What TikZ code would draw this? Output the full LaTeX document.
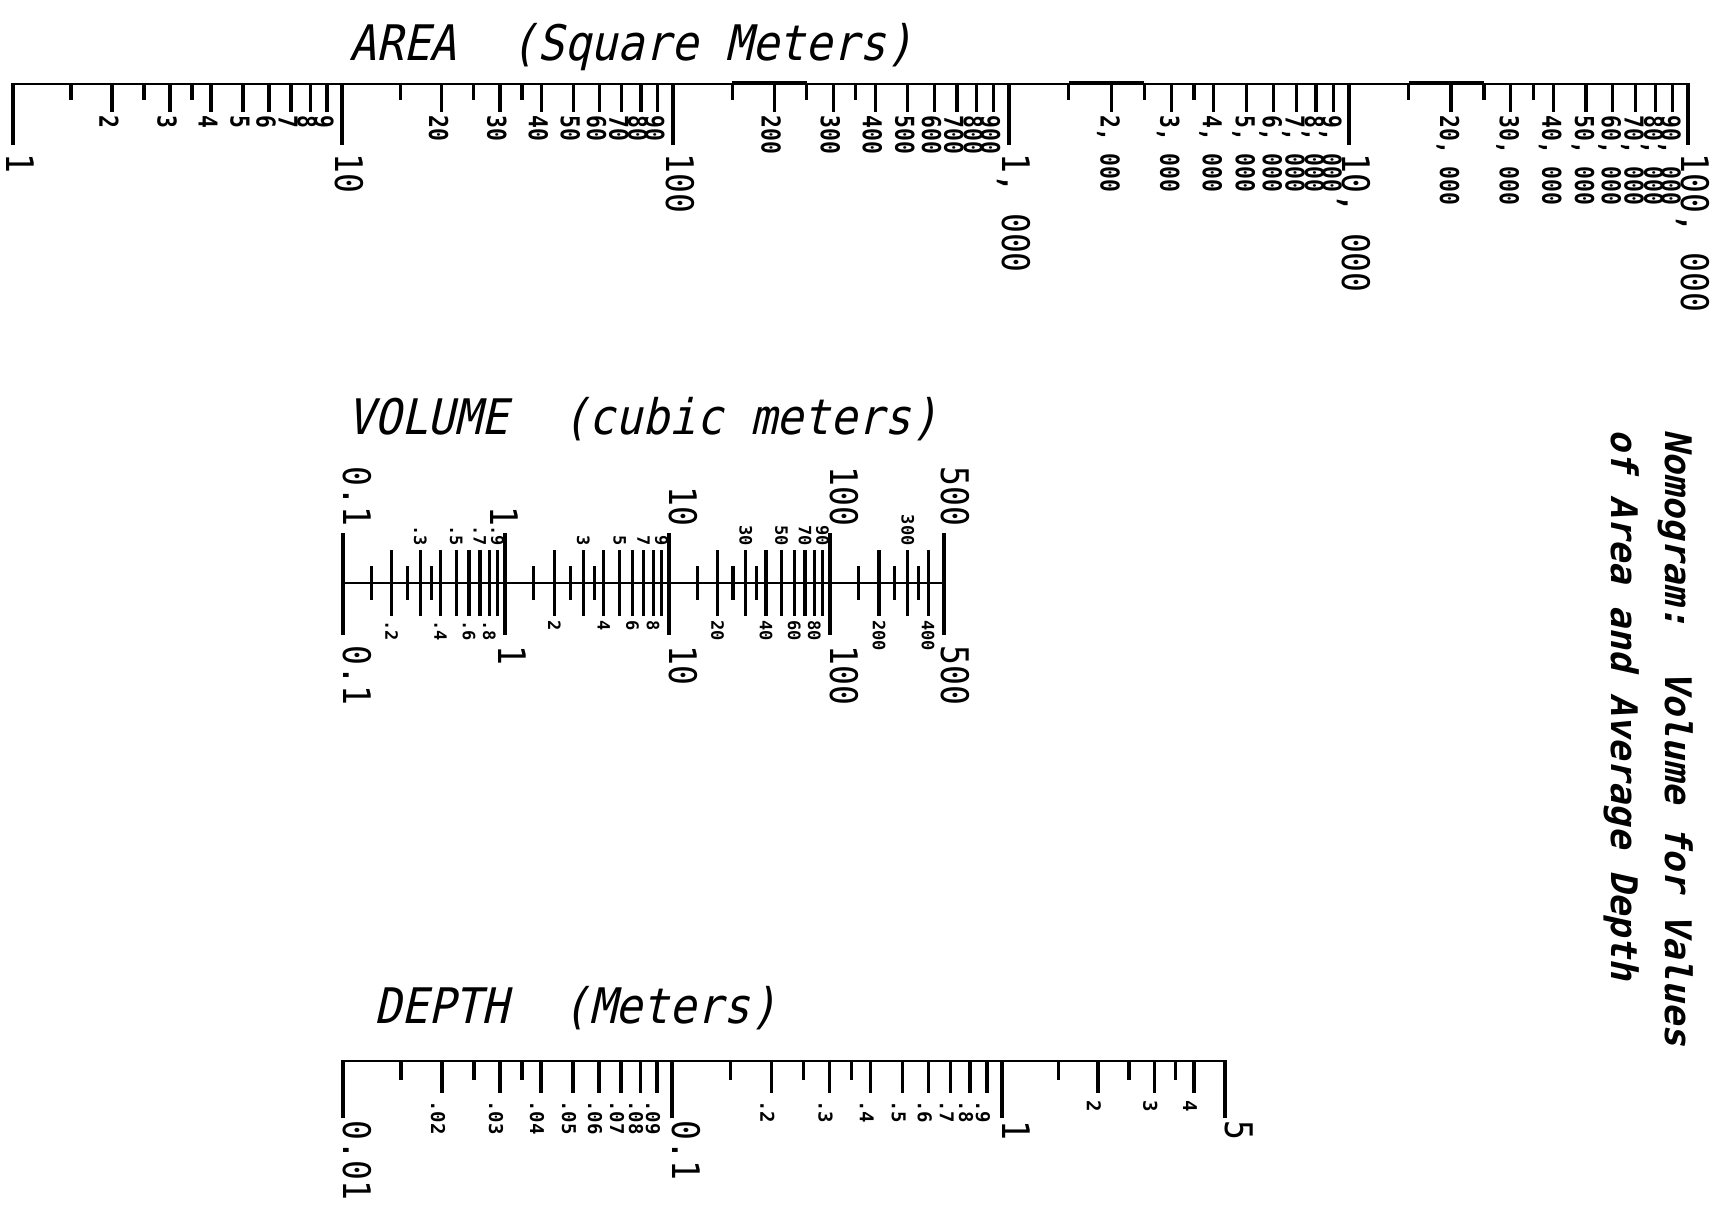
\documentclass[tikz,border=0pt]{standalone}
\usepackage{fontspec}
\newfontfamily\numfont{DejaVu Sans Mono}
\newfontfamily\arfont[FakeStretch=0.82]{DejaVu Sans Mono}
\newfontfamily\decfont[FakeStretch=0.87]{DejaVu Sans Mono}
\newfontfamily\ttlfont[FakeStretch=0.91,FakeSlant=0.22]{DejaVu Sans Mono}
\newfontfamily\sidefont[FakeSlant=0.22]{DejaVu Sans Mono}
\tikzset{
  baseln/.style={line width=1pt},
  shorttick/.style={line width=1.6pt},
  longtick/.style={line width=1.6pt},
  dectick/.style={line width=2.4pt},
  raised/.style={line width=2pt},
  declab/.style={font=\decfont\fontsize{19}{19}\selectfont, rotate=-90, inner sep=0pt},
  arealab/.style={font=\arfont\bfseries\fontsize{13}{13}\selectfont, rotate=-90, inner sep=0pt},
  vollab/.style={font=\numfont\bfseries\fontsize{8.5}{8.5}\selectfont, rotate=-90, inner sep=0pt},
  deplab/.style={font=\numfont\bfseries\fontsize{9.5}{9.5}\selectfont, rotate=-90, inner sep=0pt},
  ttl/.style={font=\ttlfont\fontsize{24.5}{24.5}\selectfont, inner sep=0pt, anchor=base west},
  sidettl/.style={font=\sidefont\bfseries\fontsize{18.3}{18.3}\selectfont, inner sep=0pt, rotate=-90, anchor=base west},
}
\begin{document}
\begin{tikzpicture}[x=0.5pt,y=-0.5pt]
\fill[white] (0,0) rectangle (1723,1216);
\useasboundingbox (0,0) rectangle (1723,1216);

% ---------------- AREA ----------------
\node[ttl] (areattl) at (349,60) {AREA\ \ (Square Meters)};
\draw[baseln] (13,84) -- (1688,84);
\foreach \a/\b/\suf/\i in {13/342/{}/1, 342/673/0/2, 673/1009/00/3, 1009/1349/{, 000}/4, 1349/1688/{0, 000}/5}{
  \foreach \m in {1.5,2.5,3.5}{
    \pgfmathsetmacro\xx{\a+(\b-\a)*log10(\m)}
    \draw[shorttick] (\xx,84) -- (\xx,100);
  }
  \foreach \m in {2,...,9}{
    \pgfmathsetmacro\xx{\a+(\b-\a)*log10(\m)}
    \draw[longtick] (\xx,84) -- (\xx,112);
    \node[arealab, anchor=west] (area-\i-\m) at (\xx-3,115) {\m\suf};
  }
}
\foreach \a/\b in {673/1009, 1009/1349, 1349/1688}{
  \pgfmathsetmacro\xa{\a+(\b-\a)*log10(1.5)}
  \pgfmathsetmacro\xb{\a+(\b-\a)*log10(2.5)}
  \draw[raised] (\xa,82.5) -- (\xb,82.5);
}
\foreach \x/\lab/\n in {13/1/0, 342/10/1, 673/100/2, 1009/{1, 000}/3, 1349/{10, 000}/4, 1688/{100, 000}/5}{
  \draw[dectick] (\x,83) -- (\x,145);
  \node[declab, anchor=base west] (areadec-\n) at (\x-7,153) {\lab};
}

% ---------------- VOLUME ----------------
\node[ttl] (volttl) at (347,434) {VOLUME\ \ (cubic meters)};
\draw[baseln] (343,583) -- (944,583);
\foreach \a/\b/\pre/\suf/\i/\mx in {343/505/./{}/1/9, 505/669/{}/{}/2/9, 669/830/{}/0/3/9, 830/993/{}/00/4/4}{
  \foreach \m in {1.5,2.5,3.5}{
    \pgfmathsetmacro\xx{\a+(\b-\a)*log10(\m)}
    \draw[shorttick] (\xx,566) -- (\xx,600);
  }
  \foreach \m in {2,...,\mx}{
    \pgfmathsetmacro\xx{\a+(\b-\a)*log10(\m)}
    \draw[longtick] (\xx,550) -- (\xx,616);
    \ifodd\m
      \node[vollab, anchor=east] (vol-\i-\m) at (\xx,546) {\pre\m\suf};
    \else
      \node[vollab, anchor=west] (vol-\i-\m) at (\xx,620) {\pre\m\suf};
    \fi
  }
}
\foreach \x/\lab/\xu/\xl/\n in {343/0.1/343/343/0, 505/1/490/498/1, 669/10/669/669/2, 830/100/830/830/3, 944/500/941/941/4}{
  \draw[dectick] (\x,533) -- (\x,635);
  \node[declab, anchor=base east] (voldecu-\n) at (\xu,527) {\lab};
  \node[declab, anchor=base west] (voldecl-\n) at (\xl,645) {\lab};
}

% ---------------- DEPTH ----------------
\node[ttl] (depttl) at (374,1023) {DEPTH\ \ (Meters)};
\draw[baseln] (343,1061) -- (1225,1061);
\foreach \a/\b/\pre/\i/\mx in {343/672/.0/1/9, 672/1002/./2/9, 1002/1321/{}/3/4}{
  \foreach \m in {1.5,2.5,3.5}{
    \pgfmathsetmacro\xx{\a+(\b-\a)*log10(\m)}
    \draw[shorttick] (\xx,1061) -- (\xx,1080);
  }
  \foreach \m in {2,...,\mx}{
    \pgfmathsetmacro\xx{\a+(\b-\a)*log10(\m)}
    \draw[longtick] (\xx,1061) -- (\xx,1093);
    \node[deplab, anchor=west] (dep-\i-\m) at (\xx-4,1100) {\pre\m};
  }
}
\foreach \x/\lab/\n in {343/0.01/0, 672/0.1/1, 1002/1/2, 1225/5/3}{
  \draw[dectick] (\x,1060) -- (\x,1118);
  \node[declab, anchor=base west] (depdec-\n) at (\x,1120) {\lab};
}

% ---------------- SIDE TITLE ----------------
\node[sidettl] (side1) at (1665,429) {Nomogram:\ \ Volume for Values};
\node[sidettl] (side2) at (1611,429) {of Area and Average Depth};
\end{tikzpicture}
\end{document}
